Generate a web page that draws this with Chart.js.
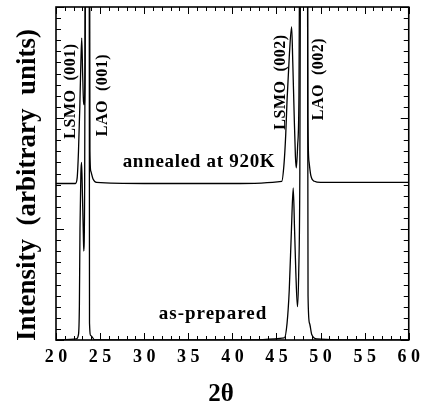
<!DOCTYPE html>
<html>
<head>
<meta charset="utf-8">
<script src="https://cdn.jsdelivr.net/npm/chart.js@4.4.0/dist/chart.umd.min.js"></script>
<style>
html, body { margin: 0; padding: 0; background: #fff; }
#wrap { width: 427px; height: 407px; }
</style>
</head>
<body>
<div id="wrap"><canvas id="chart" width="427" height="407"></canvas></div>
<script>
// 2θ / intensity pairs (intensity in arbitrary units, 0..30 on screen).
const annealedAngle = [20, 22.2, 22.4, 22.55, 22.7, 22.82, 22.92, 23.02, 23.12, 23.2, 23.3, 23.36, 23.58, 23.8, 23.85, 23.95, 24.2, 24.6, 30, 35, 40,
    45.6, 45.85, 46.05, 46.2, 46.45, 46.72, 46.85, 47.0, 47.15, 47.25, 47.4, 47.55, 47.68, 48.1, 48.5, 48.56, 48.7, 48.9, 49.3, 50, 55, 60];
const annealedIntensity = [14.1, 14.1, 14.6, 17, 21, 25, 27.2, 24, 21.5, 21.2, 25, 45, 60, 45, 17, 15.2, 14.5, 14.2, 14.1, 14.1, 14.1,
    14.3, 15.8, 18.5, 21.6, 25.5, 28.2, 25, 20.5, 16.5, 15.5, 17.5, 22, 45, 60, 45, 20, 16, 14.8, 14.3, 14.2, 14.2, 14.2];

const preparedAngle = [20, 22.3, 22.55, 22.65, 22.72, 22.82, 22.9, 23.0, 23.1, 23.15, 23.25, 23.36, 23.58, 23.76, 23.8, 23.95, 24.4, 30, 40,
    45.9, 46.2, 46.45, 46.7, 46.9, 47.05, 47.2, 47.38, 47.52, 47.65, 47.76, 48.1, 48.5, 48.58, 48.75, 49.0, 49.6, 55, 60];
const preparedIntensity = [0, 0.1, 0.5, 3, 10, 15, 16, 13, 9.5, 8, 14, 45, 60, 45, 1.5, 0.4, 0, 0, 0,
    0.2, 1.5, 4.5, 10, 13.7, 10, 6, 3, 6, 15, 45, 60, 45, 4, 1.5, 0.5, 0.1, 0, 0];

const xTickValues = [20, 25, 30, 35, 40, 45, 50, 55, 60];

const toPoints = (xs, ys) => xs.map((v, i) => ({ x: v, y: ys[i] }));

const serif = '"Liberation Serif", "Times New Roman", serif';

// Frame, inward ticks and all the lettering.
const frameAndText = {
    id: 'frameAndText',
    afterDraw(chart) {
        const { ctx, chartArea: a, scales: { x, y } } = chart;
        ctx.save();
        ctx.strokeStyle = '#000';
        ctx.fillStyle = '#000';
        ctx.lineWidth = 1;

        for (let v = 20; v <= 60; v++) {
            const px = Math.round(x.getPixelForValue(v)) + 0.5;
            const len = v % 5 === 0 ? 7 : 4;
            ctx.beginPath();
            ctx.moveTo(px, a.bottom); ctx.lineTo(px, a.bottom - len);
            ctx.moveTo(px, a.top); ctx.lineTo(px, a.top + len);
            ctx.stroke();
        }
        for (let v = 0; v <= 30; v++) {
            const py = Math.round(y.getPixelForValue(v)) + 0.5;
            const len = v % 10 === 0 ? 8 : 5;
            ctx.beginPath();
            ctx.moveTo(a.left, py); ctx.lineTo(a.left + len, py);
            ctx.moveTo(a.right, py); ctx.lineTo(a.right - len, py);
            ctx.stroke();
        }
        ctx.lineWidth = 1.6;
        ctx.strokeRect(a.left, a.top, a.right - a.left, a.bottom - a.top);

        // axis titles
        ctx.textBaseline = 'alphabetic';
        ctx.textAlign = 'center';
        ctx.font = 'bold 25px ' + serif;
        ctx.fillText('2θ', 221, 401);

        ctx.save();
        ctx.translate(35, 185);
        ctx.rotate(-Math.PI / 2);
        ctx.font = 'bold 27px ' + serif;
        ctx.fillText('Intensity  (arbitrary  units)', 0, 0);
        ctx.restore();

        // peak labels (rotated)
        ctx.font = 'bold 16px ' + serif;
        ctx.letterSpacing = '0.5px';
        [['LSMO  (001)', 75, 91], ['LAO  (001)', 107, 95], ['LSMO  (002)', 285, 82], ['LAO  (002)', 323, 79]]
            .forEach(([t, bx, cy]) => {
                ctx.save();
                ctx.translate(bx, cy);
                ctx.rotate(-Math.PI / 2);
                ctx.fillText(t, 0, 0);
                ctx.restore();
            });

        // curve labels
        ctx.font = 'bold 19px ' + serif;
        ctx.letterSpacing = '0.7px';
        ctx.fillText('annealed at 920K', 199, 167);
        ctx.letterSpacing = '1px';
        ctx.fillText('as-prepared', 213, 319);
        ctx.restore();
    }
};

const ctx = document.getElementById('chart');
new Chart(ctx, {
    type: 'line',
    data: {
        datasets: [
            {
                label: 'annealed at 920K',
                data: toPoints(annealedAngle, annealedIntensity),
                borderColor: '#000',
                borderWidth: 1.3,
                pointRadius: 0,
                cubicInterpolationMode: 'monotone',
            },
            {
                label: 'as-prepared',
                data: toPoints(preparedAngle, preparedIntensity),
                borderColor: '#000',
                borderWidth: 1.3,
                pointRadius: 0,
                cubicInterpolationMode: 'monotone',
            },
        ],
    },
    options: {
        responsive: false,
        animation: false,
        layout: { padding: { top: 7, right: 14, left: 0, bottom: 0 } },
        plugins: { legend: { display: false }, tooltip: { enabled: false } },
        scales: {
            x: {
                type: 'linear',
                min: 20,
                max: 60,
                afterFit: (s) => { s.height = 67; },
                afterBuildTicks: (s) => { s.ticks = xTickValues.map(v => ({ value: v })); },
                grid: { display: false, drawTicks: false },
                border: { display: false },
                ticks: {
                    padding: 7,
                    color: '#000',
                    maxRotation: 0,
                    font: { family: serif, size: 18, weight: 'bold' },
                    callback: (v) => String(v).split('').join(' '),
                },
            },
            y: {
                min: 0,
                max: 30,
                afterFit: (s) => { s.width = 56; },
                grid: { display: false, drawTicks: false },
                border: { display: false },
                ticks: { display: false },
            },
        },
    },
    plugins: [frameAndText],
});
</script>
</body>
</html>
